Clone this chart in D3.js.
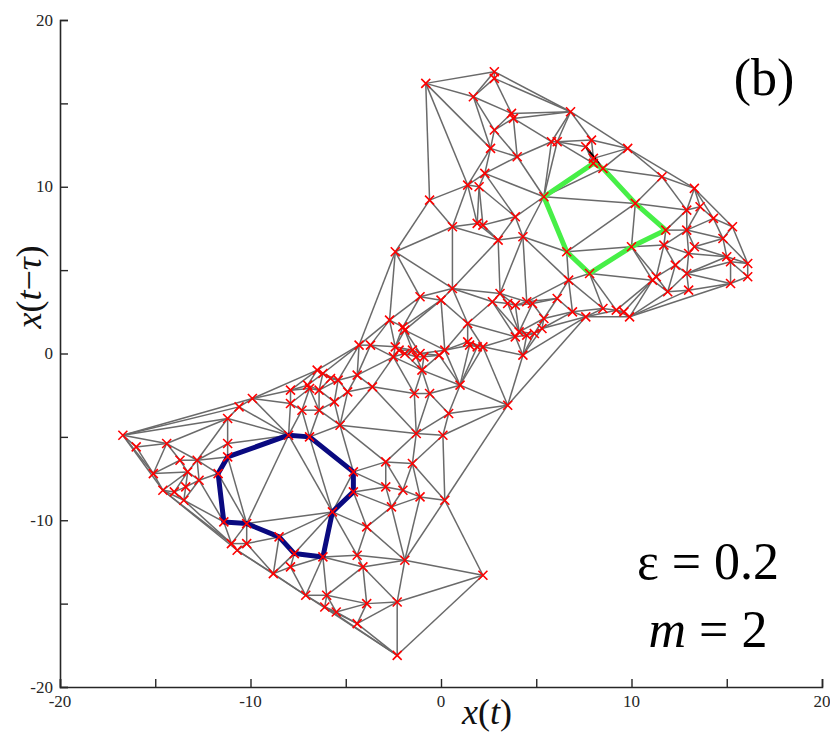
<!DOCTYPE html>
<html><head><meta charset="utf-8">
<script src="https://cdn.jsdelivr.net/npm/d3@7"></script>
<style>
body{margin:0;background:#fff}
#wrap{position:relative;width:830px;height:737px}
#c{position:absolute;left:0;top:0}
.lab{position:absolute;white-space:nowrap;line-height:1;font-family:"Liberation Serif",Tinos,"Times New Roman";color:#000}
</style>
</head><body>
<div id="wrap"><svg id="c" width="830" height="737"></svg></div>
<script>
// ---- data ----
const xTicks = [-20,-15,-10,-5,0,5,10,15,20];
const yTicks = [-20,-15,-10,-5,0,5,10,15,20];
const labeledTicks = [-20,-10,0,10,20];

const points = [
 [-0.8,16.2],[2.8,16.9],[2.8,16.5],[1.7,15.4],[3.7,14.4],[3.8,14.1],[6.8,14.5],[2.8,13.4],
 [5.8,12.7],[6.1,12.7],[7.9,12.8],[7.6,12.4],[8.0,11.7],[2.6,12.3],[4.0,11.8],[2.3,10.8],
 [1.4,10.1],[2.0,10.0],[-0.6,9.2],[5.4,9.4],[0.6,7.6],[1.9,7.8],[2.2,7.7],[3.9,8.2],
 [4.3,7.0],[3.0,6.8],[-2.4,6.1],[8.0,11.4],[8.5,11.1],[9.8,12.3],[11.6,10.6],[13.3,9.9],
 [10.2,9.0],[12.9,8.6],[13.6,8.8],[14.3,8.1],[15.3,7.6],[14.8,6.9],[11.8,7.4],[11.7,6.5],
 [12.9,7.4],[13.3,6.4],[13.0,6.0],[15.0,5.8],[15.2,5.5],[16.1,5.4],[16.1,4.6],[15.2,4.2],
 [12.9,4.8],[13.0,3.8],[12.3,5.3],[11.3,4.6],[11.1,4.4],[11.9,3.7],[10.0,6.4],[7.8,4.8],
 [6.6,6.1],[6.7,4.4],[6.9,2.5],[7.6,2.2],[8.5,2.7],[9.2,2.6],[9.6,2.5],[9.9,2.2],
 [0.6,3.9],[-1.1,3.4],[0.0,3.2],[3.1,3.6],[2.7,3.1],[6.1,3.3],[3.5,3.0],[3.9,2.9],
 [4.5,3.1],[4.8,3.0],[5.4,2.1],[5.3,1.5],[4.9,1.2],[4.5,1.1],[4.1,1.3],[3.9,1.0],
 [4.3,-0.1],[-2.7,2.0],[-2.0,1.6],[-1.9,1.4],[1.4,1.8],[1.5,0.5],[1.9,0.4],[2.2,0.4],
 [1.4,0.7],[-4.3,0.5],[-3.7,0.5],[-2.4,0.4],[-2.2,0.2],[-1.5,0.2],[-1.1,0.0],[-0.9,-0.2],
 [-1.3,-0.2],[0.2,0.2],[-0.1,-0.1],[-1.0,-1.0],[1.0,-1.9],[-3.6,-2.0],[-1.4,-2.4],[-0.6,-2.4],
 [3.5,-3.1],[-2.5,-0.2],[-1.9,0.0],[-6.5,-1.0],[-6.2,-1.2],[-4.4,-1.3],[-5.8,-1.5],[-5.4,-1.6],
 [-7.0,-1.9],[-6.9,-2.1],[-7.9,-2.2],[-7.9,-3.0],[-6.4,-2.2],[-5.6,-2.9],[-4.9,-2.3],[-7.3,-3.4],
 [-6.4,-3.4],[-9.9,-2.7],[-10.6,-3.2],[-11.2,-3.9],[-5.3,-4.3],[-8.0,-4.9],[-6.9,-5.0],[-11.2,-5.4],
 [-11.2,-6.2],[-1.3,-4.8],[-2.9,-6.5],[-1.5,-6.6],[-16.7,-4.9],[-16.0,-5.6],[-14.4,-5.4],[-13.7,-6.4],
 [-12.8,-6.4],[-15.1,-7.2],[-11.7,-7.2],[-13.3,-7.1],[-13.4,-8.0],[-12.7,-7.6],[-14.6,-8.2],[-14.0,-8.3],
 [-13.5,-8.8],[-11.4,-10.1],[-10.2,-10.2],[-4.6,-7.1],[-4.6,-8.3],[-5.7,-9.5],[-6.2,-12.2],[-7.7,-12.0],
 [-8.5,-11.0],[-2.9,-8.0],[-2.0,-8.2],[-1.1,-8.6],[-2.6,-9.2],[-3.9,-10.4],[-11.0,-11.4],[-10.7,-11.8],
 [-10.2,-11.4],[-8.8,-13.2],[-7.9,-12.8],[-4.4,-12.1],[-4.1,-12.8],[-1.9,-12.4],[-7.1,-14.5],[-6.0,-14.5],
 [-6.1,-15.2],[-5.5,-15.5],[-3.9,-15.0],[-4.4,-16.2],[-2.3,-14.9],[-2.3,-18.1],[2.2,-13.3],[0.4,-3.6],
 [0.1,-4.9],[0.2,-8.8]
];

const greenCycle = [[5.4,9.4],[8.0,11.4],[8.5,11.1],[10.2,9.0],[11.8,7.4],[10.0,6.4],[7.8,4.8],[6.6,6.1]];
const navyCycle = [[-8.0,-4.9],[-6.9,-5.0],[-4.6,-7.1],[-4.6,-8.3],[-5.7,-9.5],[-6.2,-12.2],[-7.7,-12.0],
                   [-8.5,-11.0],[-10.2,-10.2],[-11.4,-10.1],[-11.7,-7.2],[-11.2,-6.2]];
const blackEdge = [[7.6,12.4],[8.5,11.1]];
const maxLink = 7.2;   // longest link kept in the network (data units)

// ---- drawing ----
const svg = d3.select("#c");
const wrap = d3.select("#wrap");
const x = d3.scaleLinear().domain([-20,20]).range([60,822]);
const y = d3.scaleLinear().domain([-20,20]).range([687,20]);
const FONT = '"Liberation Serif", Tinos, "Times New Roman"';

// network edges from a triangulation of the points
const del = d3.Delaunay.from(points);
const tri = del.triangles;
const seen = new Set(), edges = [];
for (let i = 0; i < tri.length; i += 3) {
  for (let k = 0; k < 3; k++) {
    const a = tri[i+k], b = tri[i+(k+1)%3];
    const key = a < b ? a+"-"+b : b+"-"+a;
    if (seen.has(key)) continue;
    seen.add(key);
    const d = Math.hypot(points[a][0]-points[b][0], points[a][1]-points[b][1]);
    if (d <= maxLink) edges.push([points[a], points[b]]);
  }
}
svg.append("g").selectAll("line").data(edges).join("line")
  .attr("x1", d => x(d[0][0])).attr("y1", d => y(d[0][1]))
  .attr("x2", d => x(d[1][0])).attr("y2", d => y(d[1][1]))
  .attr("stroke", "#6a6a6a").attr("stroke-width", 1.5);

const line = d3.line().x(d => x(d[0])).y(d => y(d[1]));
svg.append("path").datum(blackEdge).attr("d", line)
  .attr("fill","none").attr("stroke","#000").attr("stroke-width",2);
svg.append("path").datum(greenCycle).attr("d", d => line(d) + "Z")
  .attr("fill","none").attr("stroke","#47ef47").attr("stroke-width",5).attr("stroke-linejoin","round");
svg.append("path").datum(navyCycle).attr("d", d => line(d) + "Z")
  .attr("fill","none").attr("stroke","#0a0a80").attr("stroke-width",5).attr("stroke-linejoin","round");

svg.append("g").selectAll("path").data(points).join("path")
  .attr("transform", d => `translate(${x(d[0])},${y(d[1])})`)
  .attr("d", "M-4.5,-4.5L4.5,4.5M-4.5,4.5L4.5,-4.5")
  .attr("stroke", "#ff0000").attr("stroke-width", 1.6).attr("fill","none");

// axes (lines and ticks only; labels drawn below)
const gx = svg.append("g").attr("transform","translate(0,687)")
  .call(d3.axisBottom(x).tickValues(xTicks).tickSize(-8).tickFormat(""));
const gy = svg.append("g").attr("transform","translate(60,0)")
  .call(d3.axisLeft(y).tickValues(yTicks).tickSize(-8).tickFormat(""));
[gx, gy].forEach(g => {
  g.select(".domain").attr("stroke","#262626").attr("stroke-width",1.6);
  g.selectAll(".tick line").attr("stroke","#262626").attr("stroke-width",1.4);
  g.selectAll(".tick text").remove();
});

// tick labels as positioned text blocks (serif)
const TS = 17;
wrap.selectAll("div.xt").data(labeledTicks).join("div").attr("class","lab xt")
  .style("font-family", FONT).style("font-size", TS+"px").style("color","#262626")
  .style("left", d => x(d)+"px").style("top", "693px")
  .style("transform","translateX(-50%)")
  .text(d => String(d));
wrap.selectAll("div.yt").data(labeledTicks).join("div").attr("class","lab yt")
  .style("font-family", FONT).style("font-size", TS+"px").style("color","#262626")
  .style("right", (830-53)+"px").style("top", d => (y(d)-TS*0.5)+"px")
  .text(d => String(d));

// axis titles
wrap.append("div").attr("class","lab")
  .style("font-family", FONT).style("font-size","36px").style("color","#111")
  .style("left","487px").style("top","694px").style("transform","translateX(-50%)")
  .html("<i>x</i>(<i>t</i>)");
wrap.append("div").attr("class","lab")
  .style("font-family", FONT).style("font-size","36px").style("color","#111")
  .style("left","29px").style("top","287px").style("transform","translate(-50%,-50%) rotate(-90deg)")
  .html("<i>x</i>(<i>t</i>\u2212<i>\u03c4</i>)");

// annotations
const ann = [
  {t:"(b)", cx:764, top:52},
  {t:"\u03b5 = 0.2", cx:708, top:536},
  {t:"<i>m</i> = 2", cx:708, top:604}
];
wrap.selectAll("div.ann").data(ann).join("div").attr("class","lab ann")
  .style("font-family", FONT).style("font-size","52px")
  .style("left", d => d.cx+"px").style("top", d => d.top+"px")
  .style("transform","translateX(-50%)")
  .html(d => d.t);
</script>
</body></html>
